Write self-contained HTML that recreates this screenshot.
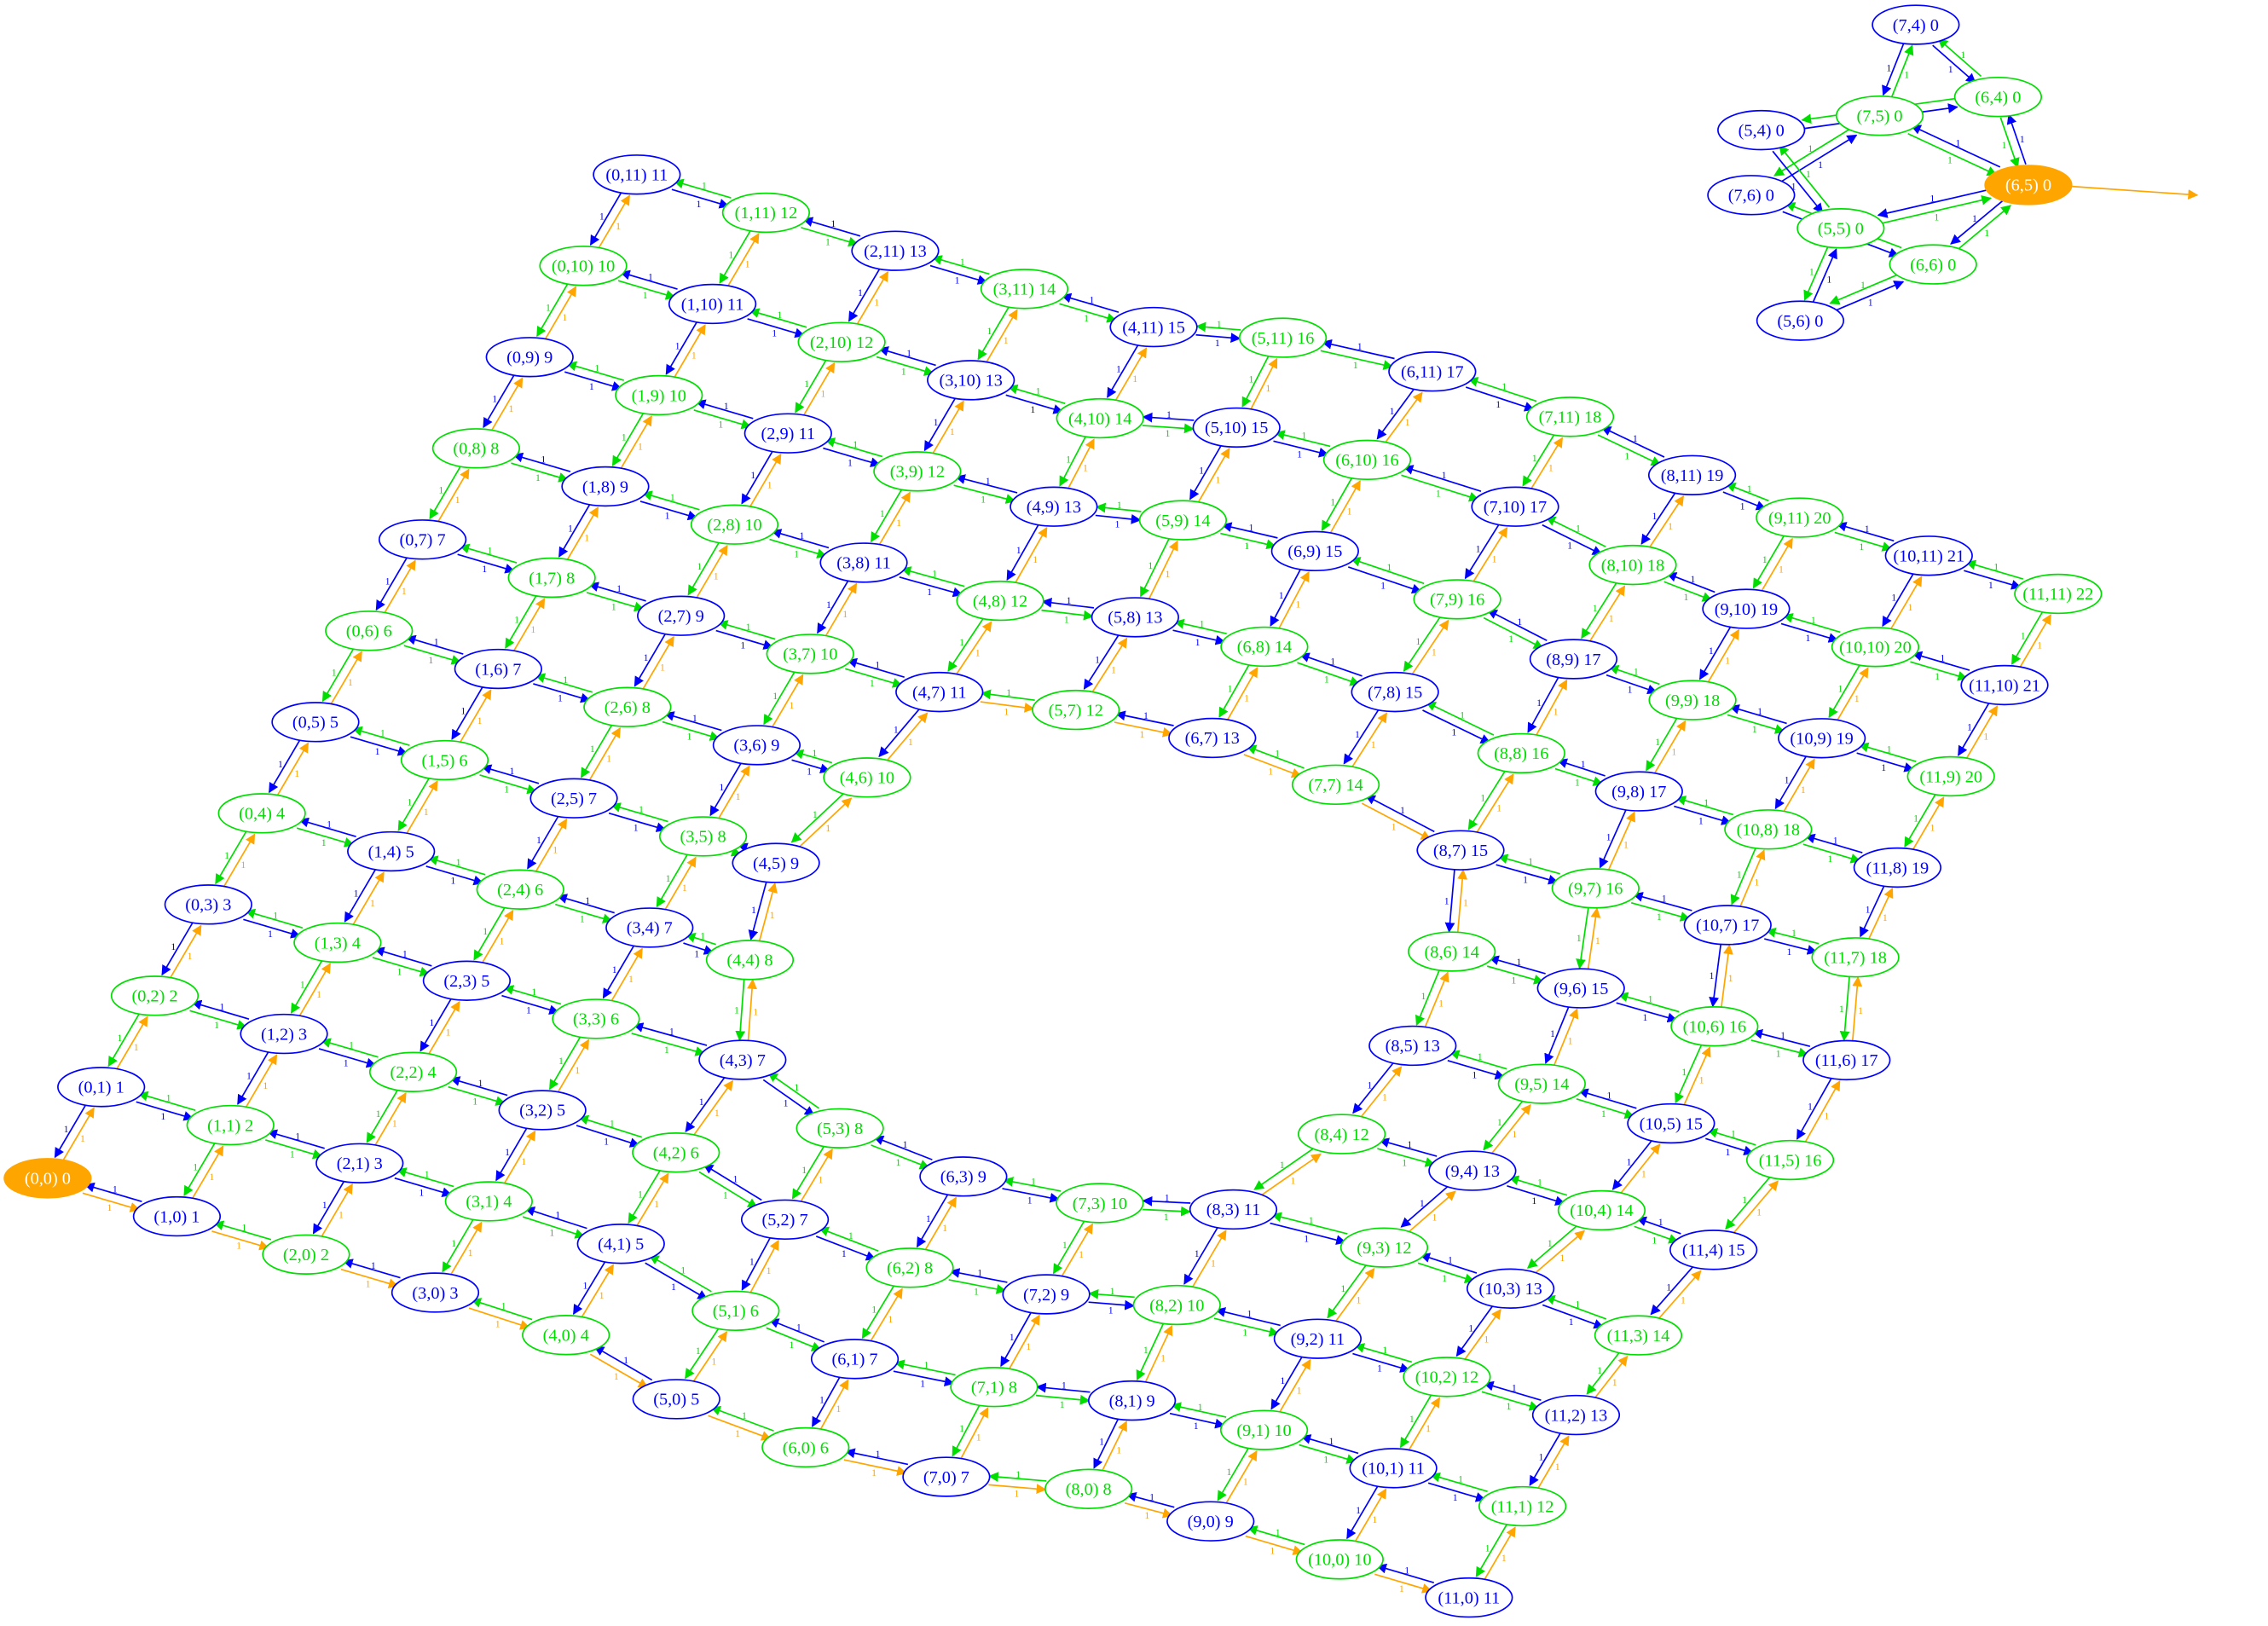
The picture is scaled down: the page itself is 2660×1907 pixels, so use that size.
<!DOCTYPE html>
<html><head><meta charset="utf-8"><style>
html,body{margin:0;padding:0;background:#fff;}
svg{display:block;}
text{font-family:"Liberation Serif",serif;}
</style></head>
<body>
<svg id="g" width="2660" height="1907" viewBox="0 0 1571 1126" xmlns="http://www.w3.org/2000/svg">
<defs>
<marker id="m-blue" viewBox="0 0 10 10" refX="9" refY="5" markerWidth="7" markerHeight="7" markerUnits="userSpaceOnUse" orient="auto"><path d="M0,0L10,5L0,10z" fill="#0000ff"/></marker>
<marker id="m-green" viewBox="0 0 10 10" refX="9" refY="5" markerWidth="7" markerHeight="7" markerUnits="userSpaceOnUse" orient="auto"><path d="M0,0L10,5L0,10z" fill="#00dd00"/></marker>
<marker id="m-orange" viewBox="0 0 10 10" refX="9" refY="5" markerWidth="7" markerHeight="7" markerUnits="userSpaceOnUse" orient="auto"><path d="M0,0L10,5L0,10z" fill="#ffa500"/></marker>
</defs>
<g id="edges"></g>
<g id="nodes"></g>
</svg>
<script>
const gridSize = 12;
const holeI = [5,6,7];
const holeJ = [4,5,6];
const clusterNodes = [[7,4],[6,4],[7,5],[5,4],[6,5],[7,6],[5,5],[6,6],[5,6]];
const clusterPos = [[1327,17],[1384,67],[1302,80],[1220,90],[1405,128],[1213,135],[1275,158],[1339,183],[1247,222]];
const sourceNode = [0,0];
const clusterRoot = [6,5];
// layout nudges (graphviz spreads nodes around the hole)
const nudge = {
 '4,3':[12,2],'5,3':[-10,23],'6,3':[-14,30],'7,3':[-9,22],'8,3':[-6,0],
 '5,2':[-11,23],'6,2':[-14,30],'7,2':[-9,22],'8,2':[-8,3],
 '5,1':[-8,23],'6,1':[-15,30],'7,1':[-8,23],'8,1':[-2,6],
 '5,0':[-12,21],'6,0':[-12,28],'7,0':[-4,22],'8,0':[5,4],
 '4,2':[3,3],'4,1':[2,3],'4,0':[1,3],
 '8,4':[32,11],'8,5':[44,13],'8,6':[34,11],'8,7':[3,4],
 '9,3':[9,0],'9,4':[33,10],'9,5':[44,13],'9,6':[34,10],'9,7':[7,4],
 '10,3':[7,2],'10,4':[33,11],'10,5':[44,14],'10,6':[37,10],'10,7':[9,3],
 '11,3':[6,8],'11,4':[21,12],'11,5':[37,13],'11,6':[39,7],'11,7':[8,-1],
 '5,7':[5,-14],'6,7':[10,-21],'7,7':[6,-15],
 '5,8':[9,-15],'6,8':[9,-21],'7,8':[10,-16],'8,8':[8,0],
 '5,9':[5,-19],'6,9':[7,-24],'7,9':[16,-17],'8,9':[7,-2],
 '5,10':[5,-20],'6,10':[6,-24],'7,10':[19,-18],'8,10':[11,-4],
 '5,11':[0,-19],'6,11':[14,-22],'7,11':[20,-17],'8,11':[15,-3],
 '4,8':[5,0],'4,9':[5,-2],
 '4,6':[-13,-4],'4,5':[-39,-8],'4,4':[-20,-4]};

const COL = {blue:"#0000ff", green:"#00dd00", orange:"#ffa500"};
const RX = 30, RY = 13.5;
const NS = "http://www.w3.org/2000/svg";
const eg = document.getElementById('edges'), ng = document.getElementById('nodes');

function gx(i,j){ const n=nudge[i+','+j]; return 33 + 89.5*i + 37.1*j + (n?n[0]:0); }
function gy(i,j){ const n=nudge[i+','+j]; return 816 + 26.4*i - 63.2*j + (n?n[1]:0); }
function inHole(i,j){ return holeI.includes(i) && holeJ.includes(j); }
function colorOf(i,j){ return (i+j)%2 ? 'blue' : 'green'; }

function edge(p,q,col,lbl){
  const dx=q[0]-p[0], dy=q[1]-p[1], L=Math.hypot(dx,dy);
  const ux=dx/L, uy=dy/L;
  const t=1/Math.sqrt((ux/RX)**2+(uy/RY)**2);
  const ox=-uy*3, oy=ux*3;
  const l=document.createElementNS(NS,'line');
  l.setAttribute('x1',p[0]+ux*t+ox); l.setAttribute('y1',p[1]+uy*t+oy);
  l.setAttribute('x2',q[0]-ux*t+ox); l.setAttribute('y2',q[1]-uy*t+oy);
  l.setAttribute('stroke',COL[col]); l.setAttribute('stroke-width','1');
  l.setAttribute('marker-end','url(#m-'+col+')');
  
  
  eg.appendChild(l);
  if(lbl){
    const tx=document.createElementNS(NS,'text');
    tx.setAttribute('x',(p[0]+q[0])/2+ox*2.2); tx.setAttribute('y',(p[1]+q[1])/2+oy*2.2+3);
    tx.setAttribute('font-size','7'); tx.setAttribute('fill',COL[col]); tx.setAttribute('text-anchor','middle');
    tx.textContent='1';
    
    
    eg.appendChild(tx);
  }
}
function node(x,y,label,col,filled){
  const e=document.createElementNS(NS,'ellipse');
  e.setAttribute('cx',x); e.setAttribute('cy',y); e.setAttribute('rx',RX); e.setAttribute('ry',RY);
  e.setAttribute('fill',filled?COL.orange:'#fff'); e.setAttribute('stroke',filled?COL.orange:COL[col]); e.setAttribute('stroke-width','1');
  
  
  ng.appendChild(e);
  const t=document.createElementNS(NS,'text');
  t.setAttribute('x',x); t.setAttribute('y',y+4); t.setAttribute('font-size','12');
  t.setAttribute('text-anchor','middle'); t.setAttribute('fill',filled?'#fff':COL[col]);
  t.textContent=label;
  
  
  ng.appendChild(t);
}
for(let i=0;i<gridSize;i++)for(let j=0;j<gridSize;j++){
  if(inHole(i,j))continue;
  const p=[gx(i,j),gy(i,j)];
  for(const [a,b] of [[i+1,j],[i,j+1]]){
    if(a>=gridSize||b>=gridSize||inHole(a,b))continue;
    const q=[gx(a,b),gy(a,b)];
    let fwd = colorOf(i,j);
    if(i===0&&j===0) fwd='orange';
    if(b===j+1) fwd='orange';
    if(j===0 || (j===7 && i>=4 && i<=7)) if(a===i+1) fwd='orange';
    edge(p,q,fwd,true);
    edge(q,p,colorOf(a,b),true);
  }
}
const cidx={}; clusterNodes.forEach((n,k)=>cidx[n[0]+','+n[1]]=k);
clusterNodes.forEach((n,k)=>{
  for(const [a,b] of [[n[0]+1,n[1]],[n[0],n[1]+1]]){
    const m=cidx[a+','+b]; if(m===undefined)continue;
    edge(clusterPos[k],clusterPos[m],colorOf(n[0],n[1]),true);
    edge(clusterPos[m],clusterPos[k],colorOf(a,b),true);
  }
});
(function(){const l=document.createElementNS(NS,'line');
l.setAttribute('x1',1435);l.setAttribute('y1',129);l.setAttribute('x2',1522);l.setAttribute('y2',135);
l.setAttribute('stroke',COL.orange);l.setAttribute('marker-end','url(#m-orange)');


eg.appendChild(l);})();
for(let i=0;i<gridSize;i++)for(let j=0;j<gridSize;j++){
  if(inHole(i,j))continue;
  const s=(i===sourceNode[0]&&j===sourceNode[1]);
  node(gx(i,j),gy(i,j),'('+i+','+j+') '+(i+j),colorOf(i,j),s);
}
clusterNodes.forEach((n,k)=>{
  const r=n[0]===clusterRoot[0]&&n[1]===clusterRoot[1];
  node(clusterPos[k][0],clusterPos[k][1],'('+n[0]+','+n[1]+') 0',colorOf(n[0],n[1]),r);
});
</script>
</body></html>
